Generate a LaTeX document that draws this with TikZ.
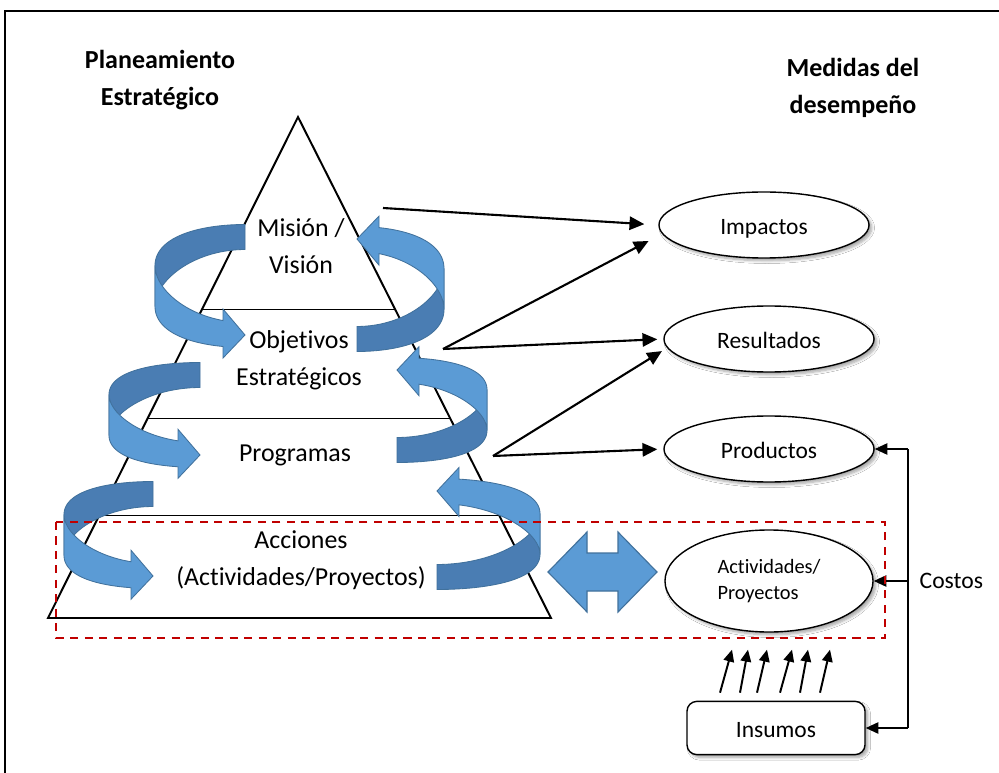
\documentclass[tikz,border=0pt]{standalone}
\usepackage{fontspec}
\setmainfont{Carlito}[Ligatures=NoCommon]
\usetikzlibrary{arrows.meta, positioning, calc, shapes.geometric, shadows.blur}
\definecolor{ribbon}{HTML}{5B9BD5}
\definecolor{ribbondark}{HTML}{4A7DB3}
\definecolor{ribedge}{HTML}{41719C}
\definecolor{boxred}{HTML}{C00000}

% curved ribbon arrows: centre x, centre y, half width, half height
\newcommand{\ribbonL}[4]{%
  \pgfmathsetmacro{\ribend}{180+acos(22/#3)}
  \filldraw[ribdark] plot[domain=90:180, samples=30] ({#1+#3*cos(\x)}, {#2-#4*sin(\x)-12.5-8*cos(\x)*cos(\x)})
    -- plot[domain=180:90, samples=30] ({#1+#3*cos(\x)}, {#2-#4*sin(\x)+12.5+8*cos(\x)*cos(\x)}) -- cycle;
  \filldraw[riblight] plot[domain=180:\ribend, samples=30] ({#1+#3*cos(\x)}, {#2-#4*sin(\x)-12.5-8*cos(\x)*cos(\x)})
    -- ({#1+#3*cos(\ribend)}, {#2-#4*sin(\ribend)-24.5}) -- ({#1}, {#2+#4})
    -- ({#1+#3*cos(\ribend)}, {#2-#4*sin(\ribend)+24.5})
    -- plot[domain=\ribend:180, samples=30] ({#1+#3*cos(\x)}, {#2-#4*sin(\x)+12.5+8*cos(\x)*cos(\x)}) -- cycle;
}
\newcommand{\ribbonR}[4]{%
  \pgfmathsetmacro{\ribend}{360+acos(22/#3)}
  \filldraw[ribdark] plot[domain=270:360, samples=30] ({#1+#3*cos(\x)}, {#2-#4*sin(\x)-12.5-8*cos(\x)*cos(\x)})
    -- plot[domain=360:270, samples=30] ({#1+#3*cos(\x)}, {#2-#4*sin(\x)+12.5+8*cos(\x)*cos(\x)}) -- cycle;
  \filldraw[riblight] plot[domain=360:\ribend, samples=30] ({#1+#3*cos(\x)}, {#2-#4*sin(\x)-12.5-8*cos(\x)*cos(\x)})
    -- ({#1+#3*cos(\ribend)}, {#2-#4*sin(\ribend)-24.5}) -- ({#1}, {#2-#4})
    -- ({#1+#3*cos(\ribend)}, {#2-#4*sin(\ribend)+24.5})
    -- plot[domain=\ribend:360, samples=30] ({#1+#3*cos(\x)}, {#2-#4*sin(\x)+12.5+8*cos(\x)*cos(\x)}) -- cycle;
}

\begin{document}
\begin{tikzpicture}[
    x=0.025cm, y=-0.025cm,
    title/.style={font=\bfseries\fontsize{18.5}{26}\selectfont, align=center},
    level/.style={font=\fontsize{18.4}{26.2}\selectfont, align=center},
    ellbox/.style={draw, ellipse, fill=white, line width=1pt, inner sep=0pt,
                   minimum width=5.25cm, minimum height=1.65cm,
                   text height=13.7pt, text depth=0pt,
                   font=\fontsize{16.7}{20}\selectfont,
                   blur shadow={shadow xshift=2pt, shadow yshift=-2pt, shadow opacity=35, shadow blur steps=6}},
    ribdark/.style={fill=ribbondark, draw=ribedge, line width=0.6pt},
    riblight/.style={fill=ribbon, draw=ribedge, line width=0.6pt},
    arr/.style={-{Triangle[length=10.5pt, width=9.5pt]}, line width=1.5pt, shorten >=0.15cm},
    carr/.style={-{Triangle[length=9pt, width=8pt]}, line width=1.3pt},
    uparr/.style={-{Triangle[length=8.5pt, width=7.5pt]}, line width=1.4pt},
    lbl/.style={font=\fontsize{16.8}{20}\selectfont, inner sep=1pt},
]
    \useasboundingbox (0,0) rectangle (999,773);
    \fill[white] (0,0) rectangle (999,773);
    \draw[line width=1.4pt] (5,773) -- (5,11) -- (999,11);

    % Titles
    \node[title] (plan) at (160,80) {Planeamiento\\Estratégico};
    \node[title] (medidas) at (853,88) {Medidas del\\desempeño};

    % Pyramid
    \coordinate (apex) at (298,117);
    \coordinate (bl) at (48,618);
    \coordinate (br) at (551,618);
    \draw[line width=1.4pt] (apex) -- (bl) -- (br) -- cycle;
    \draw[line width=0.8pt] ($(apex)!0.385!(bl)$) -- ($(apex)!0.385!(br)$);
    \draw[line width=0.8pt] ($(apex)!0.601!(bl)$) -- ($(apex)!0.601!(br)$);
    \draw[line width=0.8pt] ($(apex)!0.796!(bl)$) -- ($(apex)!0.796!(br)$);

    \node[level] (mision) at (301,246) {Misión /\\Visión};
    \node[level] (obj) at (299,360) {Objetivos\\Estratégicos};
    \node[level] (prog) at (295,455) {Programas};
    \node[level] (acc) at (301,560) {Acciones\\(Actividades/Proyectos)};

    % Ribbons between levels
    \ribbonL{245}{286}{90}{49}
    \ribbonR{357}{289}{87}{50}
    \ribbonL{200}{415}{91}{40}
    \ribbonR{397}{410}{90}{40}
    \ribbonL{153}{535}{89}{41}
    \ribbonR{437}{534}{103}{43}

    % Double block arrow
    \filldraw[fill=ribbon, draw=ribedge, line width=0.8pt] (548,572) -- (587,532) -- (587,553) -- (618,553)
        -- (618,532) -- (657,572) -- (618,612) -- (618,591) -- (587,591) -- (587,612) -- cycle;

    % Performance measures
    \node[ellbox] (imp) at (764,225) {Impactos};
    \node[ellbox] (res) at (769,339) {Resultados};
    \node[ellbox] (prod) at (769,449) {Productos};
    \node[ellbox, minimum width=5.2cm, minimum height=2.55cm, align=left, text height=, text depth=,
          font=\fontsize{14.5}{18.4}\selectfont] (act) at (769,581) {Actividades/\\Proyectos};
    \node[draw, rounded corners=7pt, fill=white, line width=1pt, minimum width=4.45cm, minimum height=1.33cm,
          text height=13.7pt, text depth=0pt, font=\fontsize{16.7}{20}\selectfont,
          blur shadow={shadow xshift=2pt, shadow yshift=-2pt, shadow opacity=35, shadow blur steps=6}] (ins) at (776,728) {Insumos};

    % Arrows
    \coordinate (m1) at (383,208);
    \coordinate (m2) at (443,349);
    \coordinate (m3) at (493,456);
    \draw[arr, shorten >=0.35cm] (m1) -- (imp.west);
    \draw[arr, shorten >=0.38cm] (m2) -- (imp.185);
    \draw[arr] (m2) -- (res.west);
    \draw[arr] (m3) -- (res.185);
    \draw[arr] (m3) -- (prod.west);

    % Costs
    \coordinate (bus) at (908,0);
    \draw[line width=0.9pt] (prod.east -| bus) -- (ins.east -| bus);
    \draw[carr] (prod.east -| bus) -- (prod.east);
    \draw[carr] (act.east -| bus) -- (act.east);
    \draw[carr] (ins.east -| bus) -- (ins.east);
    \node[lbl, right=0.25cm of {act.east -| bus}] (costos) {Costos};

    % Inputs
    \draw[uparr] ($(ins.north)+(-56,-8)$) -- ++(12,-43);
    \draw[uparr] ($(ins.north)+(-36,-8)$) -- ++(8,-43);
    \draw[uparr] ($(ins.north)+(-19,-8)$) -- ++(10,-43);
    \draw[uparr] ($(ins.north)+(4,-8)$) -- ++(12,-43);
    \draw[uparr] ($(ins.north)+(24,-8)$) -- ++(8,-43);
    \draw[uparr] ($(ins.north)+(44,-8)$) -- ++(10,-43);

    % Scope of actions
    \draw[boxred, line width=1.4pt, dash pattern=on 5.7pt off 4.6pt] (56,522) rectangle (885,638);
\end{tikzpicture}
\end{document}
